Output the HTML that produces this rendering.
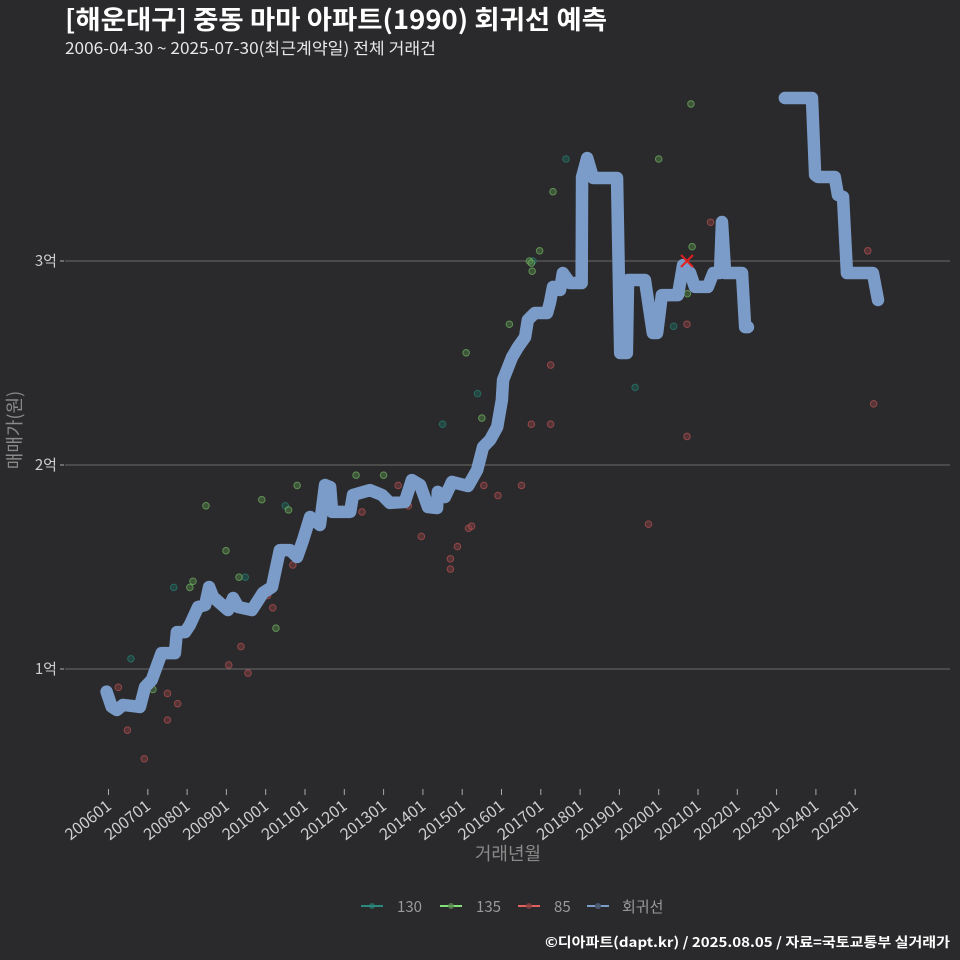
<!DOCTYPE html>
<html><head><meta charset="utf-8"><style>
body{margin:0;background:#2a292b;}
svg{display:block;font-family:"Noto Sans CJK KR","Liberation Sans",sans-serif;}
</style></head><body>
<svg id="chart" width="960" height="960" viewBox="0 0 960 960">
<rect width="960" height="960" fill="#2a292b"/>
<text x="65" y="29" font-size="26" font-weight="bold" fill="#ffffff" textLength="542" lengthAdjust="spacingAndGlyphs">[해운대구] 중동 마마 아파트(1990) 회귀선 예측</text>
<text x="65" y="54" font-size="16" fill="#e8e8e8" textLength="371" lengthAdjust="spacingAndGlyphs">2006-04-30 ~ 2025-07-30(최근계약일) 전체 거래건</text>
<g id="grid"></g>
<g id="yticks"></g>
<g id="xticks"></g>
<g id="points"></g>
<g id="lines"></g>
<text transform="translate(21,430) rotate(-90)" text-anchor="middle" font-size="18" fill="#8a8a8a">매매가(원)</text>
<text x="508" y="860" text-anchor="middle" font-size="18" fill="#8a8a8a">거래년월</text>
<g>
 <g><line x1="361" y1="906" x2="383" y2="906" stroke="#2a8a7c" stroke-width="2"/><circle cx="372" cy="906" r="3" fill="#2a8a7c" opacity="0.6"/><text x="397" y="912" font-size="15" fill="#9a9a9a">130</text></g>
 <g><line x1="440" y1="906" x2="462" y2="906" stroke="#82e07a" stroke-width="2"/><circle cx="451" cy="906" r="3" fill="#5a8a50" opacity="0.8"/><text x="476" y="912" font-size="15" fill="#9a9a9a">135</text></g>
 <g><line x1="518" y1="906" x2="540" y2="906" stroke="#e06060" stroke-width="2"/><circle cx="529" cy="906" r="3" fill="#8a4040" opacity="0.8"/><text x="554" y="912" font-size="15" fill="#9a9a9a">85</text></g>
 <g><line x1="587" y1="906" x2="609" y2="906" stroke="#7b9cc8" stroke-width="2"/><circle cx="598" cy="906" r="3" fill="#4a5a70"/><text x="622" y="912" font-size="15" fill="#9a9a9a">회귀선</text></g>
</g>
<text x="950" y="947" text-anchor="end" font-size="13.5" font-weight="bold" fill="#ffffff" textLength="405" lengthAdjust="spacingAndGlyphs">©디아파트(dapt.kr) / 2025.08.05 / 자료=국토교통부 실거래가</text>
</svg>
<script>
const yTickValues=[1,2,3];
const yTickLabels=["1억","2억","3억"];
const xTickYears=[2006,2007,2008,2009,2010,2011,2012,2013,2014,2015,2016,2017,2018,2019,2020,2021,2022,2023,2024,2025];
const xTickLabels=["200601","200701","200801","200901","201001","201101","201201","201301","201401","201501","201601","201701","201801","201901","202001","202101","202201","202301","202401","202501"];
// regression segment 1 (year, 억)
const line1Years=[2005.95,2006.08,2006.21,2006.37,2006.80,2006.93,2007.10,2007.35,2007.69,2007.74,2007.95,2008.07,2008.28,2008.46,2008.56,2008.66,2009.04,2009.17,2009.30,2009.65,2009.93,2010.16,2010.36,2010.62,2010.80,2010.95,2011.13,2011.38,2011.51,2011.64,2011.69,2012.15,2012.22,2012.65,2012.96,2013.16,2013.54,2013.72,2013.93,2014.13,2014.36,2014.38,2014.56,2014.74,2015.15,2015.38,2015.53,2015.71,2015.89,2016.01,2016.04,2016.27,2016.42,2016.60,2016.67,2016.85,2017.16,2017.23,2017.31,2017.49,2017.56,2017.74,2018.04,2018.05,2018.18,2018.33,2018.94,2019.02,2019.19,2019.22,2019.65,2019.85,2019.96,2020.08,2020.49,2020.62,2020.80,2020.92,2021.25,2021.39,2021.56,2021.61,2021.69,2022.12,2022.20,2022.27];
const line1Values=[0.889,0.815,0.799,0.824,0.814,0.912,0.946,1.078,1.078,1.181,1.181,1.216,1.304,1.314,1.402,1.353,1.289,1.348,1.304,1.289,1.373,1.402,1.583,1.583,1.549,1.632,1.745,1.706,1.902,1.892,1.770,1.770,1.853,1.877,1.853,1.814,1.819,1.926,1.902,1.794,1.789,1.868,1.843,1.917,1.897,1.975,2.088,2.123,2.186,2.319,2.417,2.529,2.578,2.627,2.711,2.745,2.745,2.794,2.873,2.858,2.941,2.892,2.892,3.412,3.505,3.407,3.407,2.549,2.549,2.907,2.907,2.647,2.647,2.833,2.833,2.980,2.941,2.873,2.873,2.941,2.941,3.191,2.941,2.941,2.676,2.676];
// regression segment 2
const line2Years=[2023.21,2023.90,2023.98,2024.05,2024.48,2024.56,2024.69,2024.79,2025.45,2025.58];
const line2Values=[3.799,3.799,3.422,3.412,3.412,3.324,3.314,2.941,2.941,2.809];
// scatter: 130
const p130Years=[2006.57,2007.66,2009.48,2010.5,2014.5,2015.39,2019.4,2020.38,2016.8,2017.64];
const p130Values=[1.05,1.4,1.45,1.8,2.2,2.35,2.38,2.68,3.0,3.5];
// scatter: 135
const p135Years=[2007.13,2008.07,2008.15,2008.48,2008.99,2009.32,2009.9,2010.58,2010.8,2012.3,2013.0,2015.1,2015.5,2016.2,2016.71,2016.76,2016.78,2016.97,2017.31,2020.0,2020.82,2020.85,2020.73,2010.26];
const p135Values=[0.9,1.4,1.43,1.8,1.58,1.45,1.83,1.78,1.9,1.95,1.95,2.55,2.23,2.69,3.0,2.99,2.95,3.05,3.34,3.5,3.77,3.07,2.84,1.2];
// scatter: 85
const p85Years=[2006.25,2006.48,2006.91,2007.5,2007.5,2007.76,2009.06,2009.37,2009.55,2010.05,2010.18,2010.69,2012.45,2013.37,2013.63,2013.96,2014.7,2014.7,2014.88,2015.16,2015.24,2015.55,2015.91,2016.51,2016.76,2017.25,2017.25,2019.74,2020.72,2020.72,2021.32,2025.32,2025.47];
const p85Values=[0.91,0.7,0.56,0.75,0.88,0.83,1.02,1.11,0.98,1.36,1.3,1.51,1.77,1.9,1.8,1.65,1.49,1.54,1.6,1.69,1.7,1.9,1.85,1.9,2.2,2.2,2.49,1.71,2.69,2.14,3.19,3.05,2.3];
const ns="http://www.w3.org/2000/svg";
function xs(yr){return 108.5+(yr-2006)*39.3;}
function ys(v){return 669-(v-1)*204;}
function mk(tag,attrs,parent){const e=document.createElementNS(ns,tag);for(const k in attrs)e.setAttribute(k,attrs[k]);parent.appendChild(e);return e;}
const grid=document.getElementById('grid'),yt=document.getElementById('yticks'),xt=document.getElementById('xticks');
yTickValues.forEach((v,i)=>{
 const l=mk('line',{x1:65,x2:950,y1:ys(v),y2:ys(v),stroke:'#6a6a6a','stroke-width':1},grid);
 
 
 const tk=mk('line',{x1:60,x2:64,y1:ys(v),y2:ys(v),stroke:'#aaa','stroke-width':1},yt);
 
 
 const t=mk('text',{x:57,y:ys(v)+5,'text-anchor':'end','font-size':15,fill:'#cfcfcf'},yt);
 t.textContent=yTickLabels[i];
 
 
});
xTickYears.forEach((yr,i)=>{
 const x=xs(yr);
 const tk=mk('line',{x1:x,x2:x,y1:789,y2:795,stroke:'#aaa','stroke-width':1},xt);
 
 
 const t=mk('text',{transform:'translate('+(x+4)+',808) rotate(-38)','text-anchor':'end','font-size':16,fill:'#cfcfcf'},xt);
 t.textContent=xTickLabels[i];
 
 
});
const pts=document.getElementById('points');
function scatter(years,vals,fill,stroke,name){
 years.forEach((yr,i)=>{
  const c=mk('circle',{cx:xs(yr),cy:ys(vals[i]),r:3.3,fill:fill,stroke:stroke,'stroke-width':1,'fill-opacity':0.55,'stroke-opacity':0.6},pts);
  
  
 });
}
scatter(p130Years,p130Values,'#1f5f55','#2a8a7c','point-130');
scatter(p135Years,p135Values,'#4f7a45','#7bc86b','point-135');
scatter(p85Years,p85Values,'#7a3c3e','#c85a5a','point-85');
const lg=document.getElementById('lines');
function poly(years,vals,name){
 const p=mk('polyline',{points:years.map((y,i)=>xs(y)+','+ys(vals[i])).join(' '),fill:'none',stroke:'#7b9cc8','stroke-width':12.5,'stroke-linejoin':'round','stroke-linecap':'round'},lg);
 
 
}
poly(line1Years,line1Values,'regression-line-segment-1');
poly(line2Years,line2Values,'regression-line-segment-2');
const mx=xs(2020.72),my=ys(3.0);
const xm=mk('path',{d:'M'+(mx-6)+','+(my-6)+'L'+(mx+6)+','+(my+6)+'M'+(mx+6)+','+(my-6)+'L'+(mx-6)+','+(my+6),stroke:'#e02020','stroke-width':2},lg);


</script>
</body></html>
